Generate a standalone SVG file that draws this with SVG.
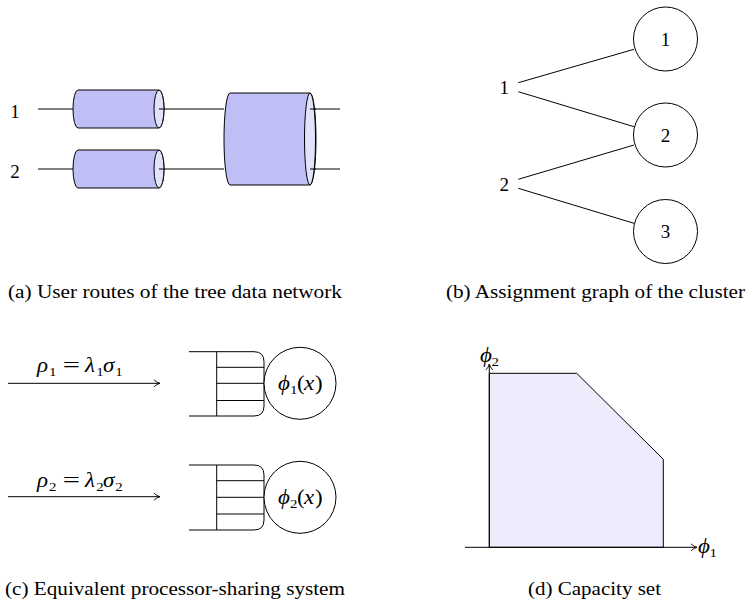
<svg xmlns="http://www.w3.org/2000/svg" width="746" height="608" viewBox="0 0 746 608">
<defs>
<style>
text{font-family:"Liberation Serif","DejaVu Serif",serif;font-size:19px;fill:#000}
.m{font-style:italic;font-size:20px}
.up{font-style:normal}
.sub{font-style:normal;font-size:13px}
.ln{stroke:#000;stroke-width:1;fill:none}
.cyl{fill:#bfbff5;stroke:#000;stroke-width:1}
.cap{fill:#e2e2fa;stroke:#000;stroke-width:1}
.nd{fill:#fff;stroke:#000;stroke-width:1}
</style>
<marker id="arr" viewBox="0 0 10 10" refX="9" refY="5" markerWidth="10" markerHeight="10" markerUnits="userSpaceOnUse" orient="auto">
<path d="M3,1.5 Q6,4.5 9,5 Q6,5.5 3,8.5" fill="none" stroke="#000" stroke-width="0.9"/>
</marker>
</defs>
<rect width="746" height="608" fill="#fff"/>

<!-- (a) -->
<g id="a-connectors">
<line class="ln" x1="38" y1="109" x2="73" y2="109"/>
<line class="ln" x1="38" y1="169" x2="73" y2="169"/>
<line class="ln" x1="159" y1="109" x2="224" y2="109"/>
<line class="ln" x1="159" y1="169" x2="224" y2="169"/>
<line class="ln" x1="310" y1="109" x2="340" y2="109"/>
<line class="ln" x1="310" y1="169" x2="340" y2="169"/>
</g>
<g id="a-label1"><text x="15" y="118" text-anchor="middle">1</text></g>
<g id="a-label2"><text x="15" y="178" text-anchor="middle">2</text></g>
<g id="a-cyl1">
<path class="cyl" d="M78,90 H159 A5,19 0 0 1 159,128 H78 A5,19 0 0 1 78,90 Z"/>
<ellipse class="cap" cx="159" cy="109" rx="5" ry="19"/>
<line class="ln" x1="159" y1="109" x2="164" y2="109"/>
</g>
<g id="a-cyl2">
<path class="cyl" d="M78,150 H159 A5,19 0 0 1 159,188 H78 A5,19 0 0 1 78,150 Z"/>
<ellipse class="cap" cx="159" cy="169" rx="5" ry="19"/>
<line class="ln" x1="159" y1="169" x2="164" y2="169"/>
</g>
<g id="a-cyl3">
<path class="cyl" d="M230,93 H310 A6,46 0 0 1 310,185 H230 A6,46 0 0 1 230,93 Z"/>
<ellipse class="cap" cx="310" cy="139" rx="5.5" ry="46"/>
<line class="ln" x1="310" y1="109" x2="316" y2="109"/>
<line class="ln" x1="310" y1="169" x2="316" y2="169"/>
</g>
<g id="a-caption"><text x="8" y="297.5" textLength="334" lengthAdjust="spacingAndGlyphs">(a) User routes of the tree data network</text></g>

<!-- (b) -->
<g id="b-connectors">
<line class="ln" x1="518.3" y1="82.7" x2="634" y2="49.3"/>
<line class="ln" x1="518.3" y1="91.7" x2="634" y2="126.7"/>
<line class="ln" x1="518.3" y1="179.3" x2="634" y2="145"/>
<line class="ln" x1="518.3" y1="188.3" x2="634" y2="223.3"/>
</g>
<g id="b-user1"><text x="504.3" y="94" text-anchor="middle">1</text></g>
<g id="b-user2"><text x="504.3" y="191" text-anchor="middle">2</text></g>
<g id="b-server1"><circle class="nd" cx="665.5" cy="39" r="32"/><text x="665.5" y="45.5" text-anchor="middle">1</text></g>
<g id="b-server2"><circle class="nd" cx="665.5" cy="135" r="32"/><text x="665.5" y="141.5" text-anchor="middle">2</text></g>
<g id="b-server3"><circle class="nd" cx="665.5" cy="231.5" r="32"/><text x="665.5" y="238" text-anchor="middle">3</text></g>
<g id="b-caption"><text x="446" y="297.5" textLength="299" lengthAdjust="spacingAndGlyphs">(b) Assignment graph of the cluster</text></g>

<!-- (c) -->
<g id="c-connectors">
<line class="ln" x1="8" y1="383.3" x2="160" y2="383.3" marker-end="url(#arr)"/>
<line class="ln" x1="8" y1="496.7" x2="160" y2="496.7" marker-end="url(#arr)"/>
</g>
<g id="c-rate1"><text class="m" transform="translate(37,371.7) scale(1.15,1)" x="0" y="0">ρ<tspan class="sub" x="10.5" dy="4">1</tspan><tspan class="up" x="22.5" dy="-4" textLength="15" lengthAdjust="spacingAndGlyphs">=</tspan><tspan x="41.7">λ</tspan><tspan class="sub" x="51.5" dy="4">1</tspan><tspan x="57.4" dy="-4">σ</tspan><tspan class="sub" x="68" dy="4">1</tspan></text></g>
<g id="c-rate2"><text class="m" transform="translate(37,486.7) scale(1.15,1)" x="0" y="0">ρ<tspan class="sub" x="10.5" dy="4">2</tspan><tspan class="up" x="22.5" dy="-4" textLength="15" lengthAdjust="spacingAndGlyphs">=</tspan><tspan x="41.7">λ</tspan><tspan class="sub" x="51.5" dy="4">2</tspan><tspan x="57.4" dy="-4">σ</tspan><tspan class="sub" x="68" dy="4">2</tspan></text></g>
<g id="c-queue1">
<path class="ln" d="M189,351.7 H254 Q264,351.7 264,361.7 V406 Q264,416 254,416 H189"/>
<line class="ln" x1="216.7" y1="351.7" x2="216.7" y2="416"/>
<line class="ln" x1="216.7" y1="367.3" x2="264" y2="367.3"/>
<line class="ln" x1="216.7" y1="383.3" x2="264" y2="383.3"/>
<line class="ln" x1="216.7" y1="400.5" x2="264" y2="400.5"/>
</g>
<g id="c-server1"><circle class="nd" cx="300" cy="383.3" r="36"/><text class="m" transform="translate(278,389.5) scale(1.15,1)" x="0" y="0">ϕ<tspan class="sub" x="10.4" dy="4">1</tspan><tspan class="up" x="16.5" dy="-4">(</tspan><tspan x="22.6">x</tspan><tspan class="up" x="32.2">)</tspan></text></g>
<g id="c-queue2">
<path class="ln" d="M189,465 H254 Q264,465 264,475 V520 Q264,530 254,530 H189"/>
<line class="ln" x1="216.7" y1="465" x2="216.7" y2="530"/>
<line class="ln" x1="216.7" y1="480.7" x2="264" y2="480.7"/>
<line class="ln" x1="216.7" y1="497.3" x2="264" y2="497.3"/>
<line class="ln" x1="216.7" y1="514" x2="264" y2="514"/>
</g>
<g id="c-server2"><circle class="nd" cx="300" cy="497.3" r="36"/><text class="m" transform="translate(278,503.5) scale(1.15,1)" x="0" y="0">ϕ<tspan class="sub" x="10.4" dy="4">2</tspan><tspan class="up" x="16.5" dy="-4">(</tspan><tspan x="22.6">x</tspan><tspan class="up" x="32.2">)</tspan></text></g>
<g id="c-caption"><text x="5" y="595" textLength="340" lengthAdjust="spacingAndGlyphs">(c) Equivalent processor-sharing system</text></g>

<!-- (d) -->
<g id="d-region"><polygon points="489.3,547.3 489.3,373.3 576.7,373.3 663.3,459.3 663.3,547.3" fill="#ececfc" stroke="#000" stroke-width="1"/></g>
<g id="d-axes">
<line class="ln" x1="465" y1="547.3" x2="697" y2="547.3" marker-end="url(#arr)"/>
<line class="ln" x1="489.3" y1="547.3" x2="489.3" y2="364" marker-end="url(#arr)"/>
</g>
<g id="d-phi1"><text class="m" transform="translate(698,553) scale(1.15,1)" x="0" y="0">ϕ<tspan class="sub" x="10" dy="4">1</tspan></text></g>
<g id="d-phi2"><text class="m" transform="translate(480,361.5) scale(1.15,1)" x="0" y="0">ϕ<tspan class="sub" x="10" dy="4">2</tspan></text></g>
<g id="d-caption"><text x="528" y="595" textLength="133" lengthAdjust="spacingAndGlyphs">(d) Capacity set</text></g>
</svg>
